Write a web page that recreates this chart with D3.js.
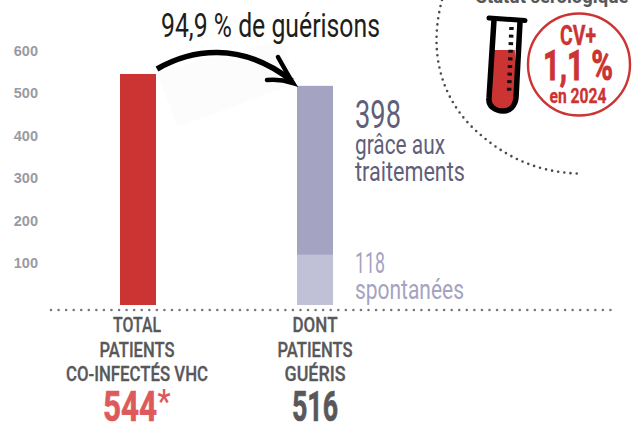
<!DOCTYPE html>
<html>
<head>
<meta charset="utf-8">
<script src="https://cdn.jsdelivr.net/npm/d3@7"></script>
<style>
html, body { margin: 0; padding: 0; background: #fff; overflow: hidden; }
text { font-family: "Roboto", sans-serif; }
</style>
</head>
<body>
<div id="chart"></div>
<script>
// values
const categories = ['total', 'gueris'];
const spontanees = [0, 118];
const traitements = [0, 398];
const infectes = [544, 0];
const yTicks = [100, 200, 300, 400, 500, 600];
const catLabels = [
    ['TOTAL', 'PATIENTS', 'CO-INFECTÉS VHC'],
    ['DONT', 'PATIENTS', 'GUÉRIS']
];
const colors = { infectes: '#cc3333', traitements: '#a5a3c2', spontanees: '#c0c0d6' };

const width = 644, height = 424;
const table = categories.map((c, i) => ({
    cat: c, infectes: infectes[i], spontanees: spontanees[i], traitements: traitements[i]
}));

const svg = d3.select('#chart').append('svg')
    .attr('width', width).attr('height', height)
    .style('display', 'block');

const y = d3.scaleLinear().domain([0, 600]).range([305, 50.2]);
const x = d3.scaleBand().domain(categories).range([120, 333]).paddingInner(141 / 177).paddingOuter(0);

// condensed lettering: squeeze a normal font to the width measured on the picture
function label(parent, txt, cx, base, size, w, color, weight, anchor, bold) {
    const t = parent.append('text')
        .attr('x', cx).attr('y', base)
        .attr('font-size', size)
        .attr('font-weight', weight || 400)
        .attr('fill', color)
        .attr('text-anchor', anchor || 'middle')
        .attr('textLength', w)
        .attr('lengthAdjust', 'spacingAndGlyphs')
        .text(txt);
    if (bold) t.attr('stroke', color).attr('stroke-width', bold);
    return t;
}

// faint shadow behind the arrow
svg.append('path')
    .attr('d', 'M157,72 L283,40 L295,84 L177,127 Z')
    .attr('fill', '#fcfcfc');

// y ticks
const yAxis = d3.axisLeft(y).tickValues(yTicks).tickSize(0).tickFormat(d3.format('d'));
const yG = svg.append('g').attr('transform', 'translate(38,0)').call(yAxis);
yG.select('.domain').remove();
yG.selectAll('text')
    .attr('x', 0).attr('dy', '0.35em')
    .style('font-family', '"Liberation Sans", sans-serif')
    .style('font-size', '14.5px')
    .style('font-weight', 700)
    .attr('fill', '#9a9aa2');

// bars
const stack = d3.stack().keys(['infectes', 'spontanees', 'traitements']);
svg.selectAll('.serie')
    .data(stack(table))
    .join('g')
    .attr('class', 'serie')
    .attr('fill', d => colors[d.key])
    .selectAll('rect')
    .data(d => d.filter(s => s[1] > s[0]))
    .join('rect')
    .attr('x', d => x(d.data.cat))
    .attr('width', x.bandwidth())
    .attr('y', d => y(d[1]))
    .attr('height', d => y(d[0]) - y(d[1]));

// baseline dots
svg.append('line')
    .attr('x1', 51).attr('x2', 618).attr('y1', 310).attr('y2', 310)
    .attr('stroke', '#77777d').attr('stroke-width', 2.6)
    .attr('stroke-linecap', 'round').attr('stroke-dasharray', '0 7.56');

// category labels
const labelX = categories.map(c => x(c) + x.bandwidth() / 2);
const labelW = [[48, 75, 142], [45, 75, 61]];
catLabels.forEach((lines, i) => {
    lines.forEach((l, j) => {
        label(svg, l, labelX[i] - (i === 0 ? 1 : 0), 332 + j * 24.6, 20, labelW[i][j], '#58585a', 500, 'middle', 0.3);
    });
});
label(svg, '544', 130, 421, 42, 54, '#dd5a5c', 700, 'middle', 0.7);
label(svg, '*', 164, 413, 34, 13, '#dd5a5c', 500);
label(svg, '516', 315, 421, 42, 46, '#58585a', 700, 'middle', 0.7);

// title + arrow
label(svg, '94,9 % de guérisons', 161, 37, 33, 219, '#1d1d1b', 400, 'start');
svg.append('path')
    .attr('d', 'M157,69 C190,50 240,40 292,81')
    .attr('fill', 'none').attr('stroke', '#000').attr('stroke-width', 5.5);
svg.append('path')
    .attr('d', 'M278,57 C283,66 288,75 293,83 C284,80 276,79 267,80')
    .attr('fill', 'none').attr('stroke', '#000').attr('stroke-width', 4.5).attr('stroke-linecap', 'round');

// side labels
label(svg, '398', 355, 128, 38, 46, '#5f5f7a', 400, 'start');
label(svg, 'grâce aux', 355, 154, 28, 90, '#5f5f7a', 400, 'start');
label(svg, 'traitements', 355, 181, 28, 110, '#5f5f7a', 400, 'start');
label(svg, '118', 355, 273, 29, 30, '#a5a3c2', 400, 'start');
label(svg, 'spontanées', 355, 299, 28, 109, '#a5a3c2', 400, 'start');

// dotted curve around the serology inset
svg.append('path')
    .attr('d', 'M442,0 C430,45 437,90 470,125 C500,155 535,172 577,173.5')
    .attr('fill', 'none').attr('stroke', '#4a4a50').attr('stroke-width', 2.6)
    .attr('stroke-linecap', 'round').attr('stroke-dasharray', '0 6.2');

label(svg, 'Statut sérologique', 552, 3, 20, 153, '#58585a', 700);

// test tube
svg.append('path')
    .attr('d', 'M494,50 L515,50 L515.5,98 C514,106 508,110 503,110 C496,110 490,105 489,98 Z')
    .attr('fill', '#cc3333');
svg.append('path')
    .attr('d', 'M494,20 L489,98 C488,106 495,111 503,111 C510,111 515,106 516,98 L520,22')
    .attr('fill', 'none').attr('stroke', '#000').attr('stroke-width', 5.5);
svg.append('path')
    .attr('d', 'M489,18 L525,20.5')
    .attr('stroke', '#000').attr('stroke-width', 5).attr('stroke-linecap', 'round');
svg.append('path')
    .attr('d', 'M511.5,27 L509,93')
    .attr('stroke', '#111').attr('stroke-width', 4.5).attr('stroke-dasharray', '3 4.6').attr('fill', 'none');

// red badge
svg.append('circle')
    .attr('cx', 579).attr('cy', 64.5).attr('r', 51)
    .attr('fill', '#fff').attr('stroke', '#cc3333').attr('stroke-width', 2.4);
label(svg, 'CV+', 578, 45, 27, 36, '#cc3333', 700, 'middle', 0.4);
label(svg, '1,1 %', 578, 80, 42, 70, '#cc3333', 700, 'middle', 0.9);
label(svg, 'en 2024', 578, 103, 20, 57, '#cc3333', 700, 'middle', 0.3);
</script>
</body>
</html>
